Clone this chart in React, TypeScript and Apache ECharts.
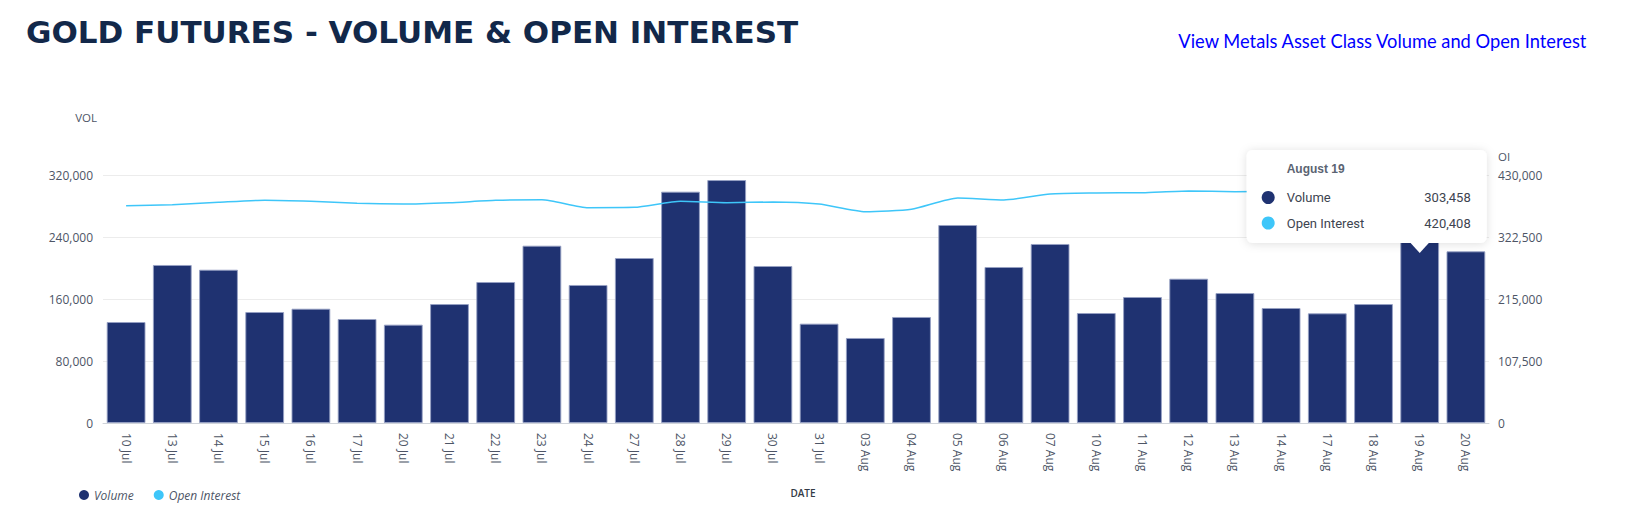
import React, { useEffect, useRef } from "react";
import * as echarts from "echarts";

const categories = [
  "10 Jul", "13 Jul", "14 Jul", "15 Jul", "16 Jul", "17 Jul", "20 Jul", "21 Jul", "22 Jul", "23 Jul",
  "24 Jul", "27 Jul", "28 Jul", "29 Jul", "30 Jul", "31 Jul", "03 Aug", "04 Aug", "05 Aug", "06 Aug",
  "07 Aug", "10 Aug", "11 Aug", "12 Aug", "13 Aug", "14 Aug", "17 Aug", "18 Aug", "19 Aug", "20 Aug",
];

const volume = [
  130300, 203900, 197800, 143200, 147500, 134200, 126900, 153500, 181900, 228800,
  178100, 212900, 298500, 313500, 202600, 128200, 109700, 136800, 255500, 201300,
  231000, 141900, 162600, 186200, 167700, 148400, 141500, 153500, 303458, 221500,
];

const openInterest = [
  376800, 378600, 382600, 386100, 384300, 380900, 379700, 382000, 386100, 387200,
  373400, 373900, 384300, 382000, 383200, 379700, 366400, 370500, 390100, 386700,
  397100, 398800, 399400, 402300, 401100, 401800, 404500, 410000, 420408, 421000,
];

const volAxisMax = 320000;
const volAxisStep = 80000;
const oiAxisMax = 430000;
const oiAxisStep = 107500;

const tooltipIndex = 28;
const tooltipTitle = "August 19";

const BAR_COLOR = "#1f3271";
const LINE_COLOR = "#3ec6f9";
const AXIS_TEXT = "#4d5566";

const fmt = (v: number) => v.toLocaleString("en-US");

export default function App() {
  const ref = useRef<HTMLDivElement>(null);

  useEffect(() => {
    if (!ref.current) return;
    const chart = echarts.init(ref.current, null, { renderer: "svg" });
    const option: any = {
      animation: false,
      backgroundColor: "#ffffff",
      title: [
        {
          text: "GOLD FUTURES - VOLUME & OPEN INTEREST",
          left: 21,
          top: 11,
          textStyle: {
            fontFamily: "DejaVu Sans",
            fontWeight: 700,
            fontSize: 31,
            color: "#12284a",
          },
        },
        {
          text: "View Metals Asset Class Volume and Open Interest",
          right: 40,
          top: 27,
          textStyle: {
            fontFamily: "Lato",
            fontWeight: 400,
            fontSize: 18.3,
            color: "#0000ff",
          },
        },
      ],
      legend: {
        left: 74,
        top: 484,
        icon: "circle",
        itemWidth: 10,
        itemHeight: 10,
        itemGap: 20,
        itemStyle: { borderWidth: 0 },
        textStyle: {
          fontFamily: "Open Sans",
          fontStyle: "italic",
          fontSize: 12,
          color: AXIS_TEXT,
        },
        data: ["Volume", "Open Interest"],
      },
      grid: {
        left: 103,
        right: 144,
        top: 175,
        bottom: 97,
        containLabel: false,
      },
      xAxis: {
        type: "category",
        data: categories,
        name: "DATE",
        nameLocation: "middle",
        nameGap: 65,
        nameTextStyle: {
          fontFamily: "Open Sans",
          fontSize: 10,
          fontWeight: 600,
          color: "#333a45",
          padding: [0, 0, 0, 14],
        },
        axisLine: { show: true, lineStyle: { color: "#cfd3da", width: 1 } },
        axisTick: { show: false },
        axisLabel: {
          interval: 0,
          rotate: -90,
          margin: 10,
          fontFamily: "Open Sans",
          fontSize: 12,
          color: AXIS_TEXT,
        },
      },
      yAxis: [
        {
          type: "value",
          min: 0,
          max: volAxisMax,
          interval: volAxisStep,
          name: "VOL",
          nameLocation: "end",
          nameGap: 58,
          nameTextStyle: {
            fontFamily: "Open Sans",
            fontSize: 11.5,
            color: AXIS_TEXT,
            align: "right",
            verticalAlign: "middle",
            padding: [0, 6, 0, 0],
          },
          axisLine: { show: false },
          axisTick: { show: false },
          axisLabel: {
            margin: 10,
            fontFamily: "Open Sans",
            fontSize: 12,
            color: AXIS_TEXT,
            formatter: (v: number) => fmt(v),
          },
          splitLine: { show: true, lineStyle: { color: "#ececec", width: 1 } },
        },
        {
          type: "value",
          min: 0,
          max: oiAxisMax,
          interval: oiAxisStep,
          name: "OI",
          nameLocation: "end",
          nameGap: 19,
          nameTextStyle: {
            fontFamily: "Open Sans",
            fontSize: 11.5,
            color: AXIS_TEXT,
            align: "left",
            verticalAlign: "middle",
            padding: [0, 0, 0, 9],
          },
          axisLine: { show: false },
          axisTick: { show: false },
          axisLabel: {
            margin: 9,
            fontFamily: "Open Sans",
            fontSize: 12,
            color: AXIS_TEXT,
            formatter: (v: number) => fmt(v),
          },
          splitLine: { show: false },
        },
      ],
      series: [
        {
          name: "Volume",
          type: "bar",
          yAxisIndex: 0,
          data: volume,
          barCategoryGap: "16%",
          itemStyle: {
            color: BAR_COLOR,
            borderColor: "rgba(150,160,195,0.9)",
            borderWidth: 1,
          },
        },
        {
          name: "Open Interest",
          type: "line",
          yAxisIndex: 1,
          data: openInterest,
          smooth: 0.2,
          showSymbol: false,
          symbol: "circle",
          itemStyle: { color: LINE_COLOR },
          lineStyle: { color: LINE_COLOR, width: 1.5 },
          z: 3,
        },
      ],
    };
    chart.setOption(option);

    const p = chart.convertToPixel({ seriesIndex: 0 }, [tooltipIndex, volAxisMax]) as number[];
    const cx = p[0];
    const gridTop = p[1];
    const boxW = 240;
    const boxH = 93;
    const boxL = cx - 173;
    const boxT = gridTop - 25;
    const textFont = "Roboto";

    chart.setOption({
      graphic: [
        {
          type: "group",
          z: 100,
          children: [
            {
              type: "rect",
              shape: { x: boxL, y: boxT, width: boxW, height: boxH, r: 6 },
              style: {
                fill: "#ffffff",
                shadowBlur: 10,
                shadowColor: "rgba(0,0,0,0.13)",
                shadowOffsetX: 0,
                shadowOffsetY: 1,
              },
              z: 100,
            },
            {
              type: "polygon",
              shape: {
                points: [
                  [cx - 10, boxT + boxH - 1],
                  [cx + 10, boxT + boxH - 1],
                  [cx, boxT + boxH + 10],
                ],
              },
              style: { fill: "#ffffff" },
              z: 101,
            },
            {
              type: "text",
              x: boxL + 40,
              y: boxT + 19,
              style: {
                text: tooltipTitle,
                fontFamily: "Liberation Sans",
                fontWeight: 700,
                fontSize: 12,
                fill: "#5b6472",
                verticalAlign: "middle",
                align: "left",
              },
              z: 102,
            },
            {
              type: "circle",
              shape: { cx: boxL + 21.5, cy: boxT + 47.5, r: 6.5 },
              style: { fill: BAR_COLOR },
              z: 102,
            },
            {
              type: "circle",
              shape: { cx: boxL + 21.5, cy: boxT + 73, r: 6.5 },
              style: { fill: LINE_COLOR },
              z: 102,
            },
            {
              type: "text",
              x: boxL + 40,
              y: boxT + 47.5,
              style: {
                text: "Volume",
                fontFamily: textFont,
                fontSize: 13,
                fill: "#3d4450",
                verticalAlign: "middle",
                align: "left",
              },
              z: 102,
            },
            {
              type: "text",
              x: boxL + 40,
              y: boxT + 73,
              style: {
                text: "Open Interest",
                fontFamily: textFont,
                fontSize: 13,
                fill: "#3d4450",
                verticalAlign: "middle",
                align: "left",
              },
              z: 102,
            },
            {
              type: "text",
              x: boxL + 224,
              y: boxT + 47.5,
              style: {
                text: fmt(volume[tooltipIndex]),
                fontFamily: textFont,
                fontSize: 13,
                fill: "#3d4450",
                verticalAlign: "middle",
                align: "right",
              },
              z: 102,
            },
            {
              type: "text",
              x: boxL + 224,
              y: boxT + 73,
              style: {
                text: fmt(openInterest[tooltipIndex]),
                fontFamily: textFont,
                fontSize: 13,
                fill: "#3d4450",
                verticalAlign: "middle",
                align: "right",
              },
              z: 102,
            },
          ],
        },
      ],
    });

    return () => {
      chart.dispose();
    };
  }, []);

  return (
    <div
      ref={ref}
      style={{ position: "fixed", left: 0, top: 0, width: 1633, height: 520 }}
    />
  );
}
